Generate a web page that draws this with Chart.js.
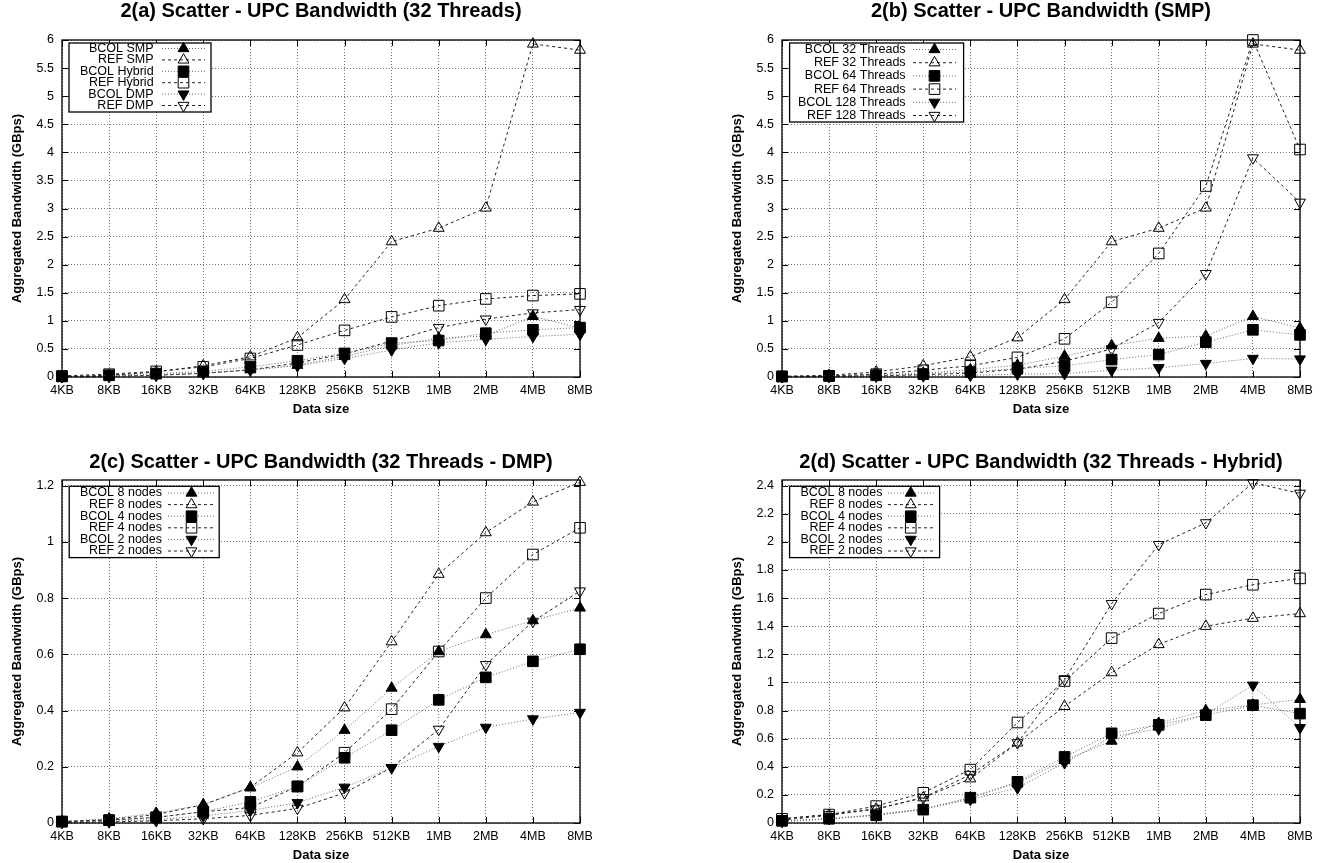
<!DOCTYPE html>
<html>
<head>
<meta charset="utf-8">
<title>Scatter - UPC Bandwidth</title>
<script src="https://cdn.jsdelivr.net/npm/chart.js@4.4.0/dist/chart.umd.min.js"></script>
<style>
  html, body { margin: 0; padding: 0; background: #fff; overflow: hidden; }
  canvas { position: absolute; }
</style>
</head>
<body>
<canvas id="chartA" width="661" height="417" style="left:0;top:0"></canvas>
<canvas id="chartB" width="602" height="417" style="left:720px;top:0"></canvas>
<canvas id="chartC" width="661" height="417" style="left:0;top:446px"></canvas>
<canvas id="chartD" width="602" height="417" style="left:720px;top:446px"></canvas>
<script>
// x categories
const sizes = ['4KB', '8KB', '16KB', '32KB', '64KB', '128KB', '256KB', '512KB', '1MB', '2MB', '4MB', '8MB'];

// 2(a) 32 threads
const namesA = ['BCOL SMP', 'REF SMP', 'BCOL Hybrid', 'REF Hybrid', 'BCOL DMP', 'REF DMP'];
const aBcolSmp = [0.01, 0.02, 0.04, 0.07, 0.13, 0.21, 0.37, 0.56, 0.69, 0.73, 1.08, 0.87];
const aRefSmp = [0.01, 0.03, 0.09, 0.20, 0.36, 0.70, 1.38, 2.41, 2.65, 3.01, 5.93, 5.82];
const aBcolHybrid = [0.01, 0.03, 0.06, 0.10, 0.18, 0.29, 0.42, 0.60, 0.65, 0.78, 0.84, 0.88];
const aRefHybrid = [0.02, 0.05, 0.10, 0.18, 0.33, 0.57, 0.83, 1.07, 1.27, 1.39, 1.45, 1.48];
const aBcolDmp = [0.005, 0.015, 0.035, 0.065, 0.125, 0.20, 0.33, 0.48, 0.61, 0.67, 0.72, 0.76];
const aRefDmp = [0.005, 0.012, 0.03, 0.065, 0.127, 0.25, 0.41, 0.64, 0.88, 1.03, 1.14, 1.20];

// 2(b) SMP
const namesB = ['BCOL 32 Threads', 'REF 32 Threads', 'BCOL 64 Threads', 'REF 64 Threads', 'BCOL 128 Threads', 'REF 128 Threads'];
const bBcol32 = [0.01, 0.02, 0.04, 0.07, 0.13, 0.21, 0.37, 0.56, 0.69, 0.73, 1.08, 0.87];
const bRef32 = [0.01, 0.03, 0.09, 0.20, 0.36, 0.70, 1.38, 2.41, 2.65, 3.01, 5.93, 5.82];
const bBcol64 = [0.01, 0.02, 0.03, 0.05, 0.09, 0.15, 0.20, 0.31, 0.40, 0.62, 0.84, 0.75];
const bRef64 = [0.01, 0.02, 0.05, 0.12, 0.20, 0.35, 0.68, 1.33, 2.20, 3.40, 6.00, 4.05];
const bBcol128 = [0.005, 0.01, 0.015, 0.02, 0.03, 0.05, 0.06, 0.12, 0.165, 0.24, 0.33, 0.32];
const bRef128 = [0.005, 0.01, 0.02, 0.04, 0.07, 0.14, 0.28, 0.50, 0.97, 1.84, 3.90, 3.11];

// 2(c) 32 threads - DMP
const namesC = ['BCOL 8 nodes', 'REF 8 nodes', 'BCOL 4 nodes', 'REF 4 nodes', 'BCOL 2 nodes', 'REF 2 nodes'];
const cBcol8 = [0.005, 0.015, 0.035, 0.065, 0.125, 0.20, 0.33, 0.48, 0.61, 0.67, 0.72, 0.765];
const cRef8 = [0.005, 0.012, 0.03, 0.065, 0.127, 0.25, 0.41, 0.645, 0.885, 1.033, 1.142, 1.212];
const cBcol4 = [0.005, 0.01, 0.02, 0.04, 0.075, 0.13, 0.232, 0.33, 0.438, 0.518, 0.575, 0.618];
const cRef4 = [0.005, 0.01, 0.02, 0.04, 0.055, 0.13, 0.25, 0.405, 0.61, 0.80, 0.955, 1.05];
const cBcol2 = [0.003, 0.006, 0.012, 0.025, 0.045, 0.072, 0.127, 0.197, 0.272, 0.34, 0.37, 0.393];
const cRef2 = [0.002, 0.004, 0.008, 0.015, 0.027, 0.052, 0.107, 0.197, 0.333, 0.563, 0.717, 0.825];

// 2(d) 32 threads - Hybrid
const namesD = ['BCOL 8 nodes', 'REF 8 nodes', 'BCOL 4 nodes', 'REF 4 nodes', 'BCOL 2 nodes', 'REF 2 nodes'];
const dBcol8 = [0.01, 0.03, 0.06, 0.10, 0.18, 0.285, 0.445, 0.583, 0.71, 0.80, 0.84, 0.88];
const dRef8 = [0.02, 0.055, 0.10, 0.18, 0.315, 0.57, 0.83, 1.07, 1.27, 1.40, 1.457, 1.49];
const dBcol4 = [0.015, 0.03, 0.055, 0.095, 0.18, 0.293, 0.47, 0.638, 0.698, 0.767, 0.838, 0.778];
const dRef4 = [0.03, 0.06, 0.12, 0.215, 0.38, 0.715, 1.01, 1.315, 1.49, 1.625, 1.695, 1.74];
const dBcol2 = [0.01, 0.03, 0.055, 0.10, 0.167, 0.25, 0.428, 0.614, 0.67, 0.774, 0.98, 0.678];
const dRef2 = [0.03, 0.06, 0.10, 0.18, 0.345, 0.57, 1.02, 1.56, 1.98, 2.135, 2.42, 2.345];

// y axis ranges and tick steps for a, b, c, d
const yMax = [6, 6, 1.22, 2.44];
const yStep = [0.5, 0.5, 0.2, 0.2];

const FONT = "'Liberation Sans', Arial, sans-serif";
Chart.defaults.font.family = FONT;
Chart.defaults.color = '#000';

const shapes = ['triangle', 'triangle', 'rect', 'rect', 'triangle', 'triangle'];

// same path as chart.js uses for points, for the legend glyphs
function marker(ctx, ds, x, y) {
  const r = ds.pointRadius;
  ctx.beginPath();
  if (ds.pointStyle === 'rect') {
    const s = r * Math.SQRT1_2;
    ctx.rect(x - s, y - s, 2 * s, 2 * s);
  } else {
    let rad = ds.pointRotation * Math.PI / 180;
    ctx.moveTo(x + Math.sin(rad) * r, y - Math.cos(rad) * r);
    rad += 2 * Math.PI / 3;
    ctx.lineTo(x + Math.sin(rad) * r, y - Math.cos(rad) * r);
    rad += 2 * Math.PI / 3;
    ctx.lineTo(x + Math.sin(rad) * r, y - Math.cos(rad) * r);
    ctx.closePath();
  }
  ctx.fillStyle = ds.pointBackgroundColor;
  ctx.fill();
  ctx.lineWidth = 1;
  ctx.strokeStyle = '#000';
  ctx.stroke();
}

// gnuplot look: border box, inner ticks, boxed key, title over the plot
const gnuplotFrame = {
  id: 'gnuplotFrame',
  afterDatasetsDraw(chart, args, opts) {
    const { ctx, chartArea: a, scales: { x, y } } = chart;
    ctx.save();
    ctx.setLineDash([]);
    ctx.strokeStyle = '#000';
    ctx.lineWidth = 1;
    ctx.beginPath();
    y.ticks.forEach((t, i) => {
      const py = Math.round(y.getPixelForTick(i)) + 0.5;
      ctx.moveTo(a.left, py); ctx.lineTo(a.left + 6, py);
      ctx.moveTo(a.right, py); ctx.lineTo(a.right - 6, py);
    });
    x.ticks.forEach((t, i) => {
      const px = Math.round(x.getPixelForTick(i)) + 0.5;
      ctx.moveTo(px, a.bottom); ctx.lineTo(px, a.bottom - 6);
      ctx.moveTo(px, a.top); ctx.lineTo(px, a.top + 6);
    });
    ctx.stroke();
    ctx.lineWidth = 1.3;
    ctx.strokeRect(a.left, a.top, a.right - a.left, a.bottom - a.top);

    // key
    const k = opts.key;
    const kx = a.left + k.x, ky = a.top + k.y;
    ctx.fillStyle = '#fff';
    ctx.fillRect(kx, ky, k.w, k.h);
    ctx.lineWidth = 1.3;
    ctx.strokeRect(kx, ky, k.w, k.h);
    chart.data.datasets.forEach((ds, i) => {
      const ry = a.top + k.row0 + i * k.rowH;
      ctx.fillStyle = '#000';
      ctx.font = '12.5px ' + FONT;
      ctx.textAlign = 'right';
      ctx.textBaseline = 'middle';
      ctx.fillText(ds.label, a.left + k.textRight, ry);
      ctx.strokeStyle = ds.borderColor;
      ctx.lineWidth = 1;
      ctx.setLineDash(ds.borderDash);
      ctx.beginPath();
      ctx.moveTo(a.left + k.sampleL, ry);
      ctx.lineTo(a.left + k.sampleR, ry);
      ctx.stroke();
      ctx.setLineDash([]);
      marker(ctx, ds, a.left + (k.sampleL + k.sampleR) / 2, ry);
    });

    ctx.fillStyle = '#000';
    ctx.font = 'bold 20px ' + FONT;
    ctx.textAlign = 'center';
    ctx.textBaseline = 'middle';
    ctx.fillText(opts.title, (a.left + a.right) / 2, a.top - opts.titleOffset);
    ctx.restore();
  }
};

function panel(id, title, names, series, max, step, padTop, padRight, titleOffset, key) {
  const datasets = series.map((values, i) => ({
    label: names[i],
    data: values,
    borderColor: i % 2 ? '#222' : '#666',
    borderWidth: 1,
    borderDash: i % 2 ? [3, 3] : [1, 2],
    pointStyle: shapes[i],
    pointRotation: i >= 4 ? 180 : 0,
    pointRadius: shapes[i] === 'rect' ? 7.5 : 6.3,
    pointBorderColor: '#000',
    pointBorderWidth: 1,
    pointBackgroundColor: i % 2 ? 'rgba(0,0,0,0)' : '#000',
    fill: false,
    tension: 0,
    clip: false
  }));

  const grid = { color: 'rgba(0,0,0,0.55)', drawTicks: false, lineWidth: 1 };
  const border = { display: false, dash: [1, 2] };

  return new Chart(document.getElementById(id), {
    type: 'line',
    data: { labels: sizes, datasets: datasets },
    options: {
      responsive: false,
      animation: false,
      layout: { padding: { top: padTop, right: padRight, bottom: 0, left: 0 } },
      plugins: {
        legend: { display: false },
        tooltip: { enabled: false },
        gnuplotFrame: { title: title, titleOffset: titleOffset, key: key }
      },
      scales: {
        x: {
          type: 'category',
          offset: false,
          grid: Object.assign({ offset: false }, grid),
          border: border,
          ticks: { autoSkip: false, maxRotation: 0, padding: 6, font: { size: 12.5 } },
          title: { display: true, text: 'Data size', font: { size: 13, weight: 'bold' }, padding: 0 },
          afterFit: s => { s.height = 40; }
        },
        y: {
          min: 0,
          max: max,
          grid: grid,
          border: border,
          ticks: {
            stepSize: step,
            includeBounds: false,
            padding: 8,
            font: { size: 12.5 },
            callback: v => String(+v.toFixed(2))
          },
          title: { display: true, text: 'Aggregated Bandwidth (GBps)', font: { size: 13, weight: 'bold' }, padding: { top: 10, bottom: 0 } },
          afterFit: s => { s.width = 62; }
        }
      }
    },
    plugins: [gnuplotFrame]
  });
}

panel('chartA', '2(a) Scatter - UPC Bandwidth (32 Threads)', namesA,
  [aBcolSmp, aRefSmp, aBcolHybrid, aRefHybrid, aBcolDmp, aRefDmp], yMax[0], yStep[0], 40, 81, 29,
  { x: 7, y: 3, w: 142, h: 69, row0: 8.5, rowH: 11.4, textRight: 91.6, sampleL: 100, sampleR: 143 });

panel('chartB', '2(b) Scatter - UPC Bandwidth (SMP)', namesB,
  [bBcol32, bRef32, bBcol64, bRef64, bBcol128, bRef128], yMax[1], yStep[1], 40, 22, 29,
  { x: 7.6, y: 3, w: 174, h: 79, row0: 9.5, rowH: 13.2, textRight: 123.6, sampleL: 131, sampleR: 174 });

panel('chartC', '2(c) Scatter - UPC Bandwidth (32 Threads - DMP)', namesC,
  [cBcol8, cRef8, cBcol4, cRef4, cBcol2, cRef2], yMax[2], yStep[2], 34, 81, 18,
  { x: 7.2, y: 6.3, w: 150, h: 71.3, row0: 13, rowH: 11.6, textRight: 100, sampleL: 106, sampleR: 153 });

panel('chartD', '2(d) Scatter - UPC Bandwidth (32 Threads - Hybrid)', namesD,
  [dBcol8, dRef8, dBcol4, dRef4, dBcol2, dRef2], yMax[3], yStep[3], 34, 22, 18,
  { x: 7.6, y: 6.3, w: 150, h: 71.3, row0: 13, rowH: 11.6, textRight: 100.4, sampleL: 106, sampleR: 151.5 });
</script>
</body>
</html>
